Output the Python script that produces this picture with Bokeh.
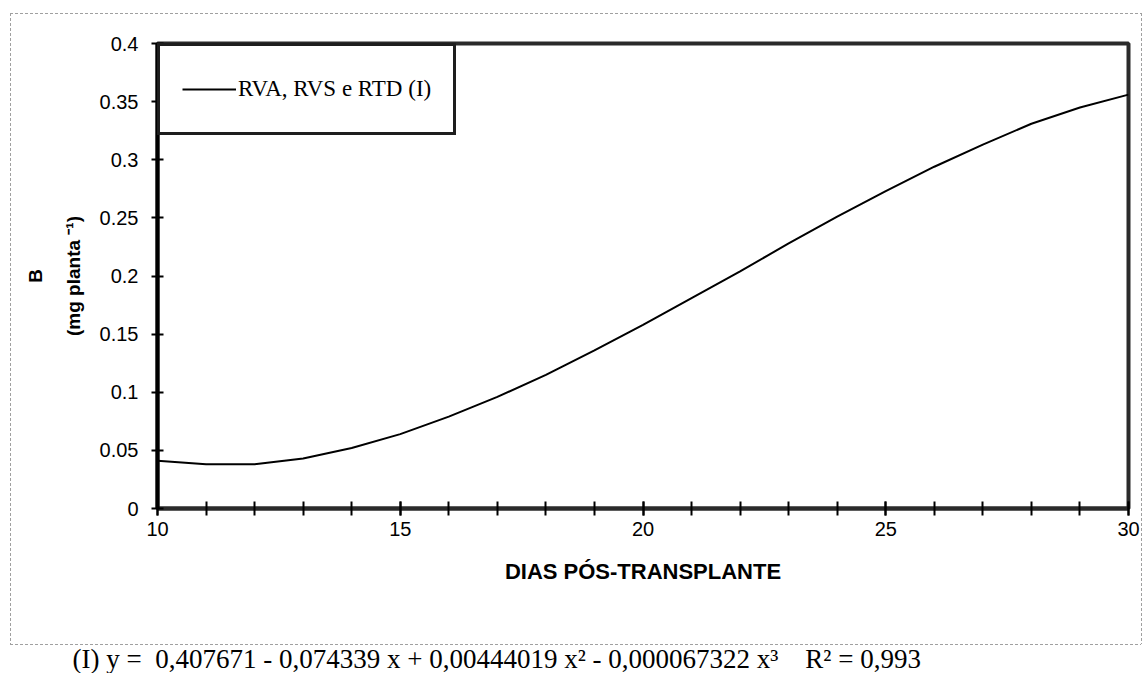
from bokeh.plotting import figure
from bokeh.models import (FixedTicker, CustomJSTickFormatter, Legend, LegendItem, Title)
from bokeh.embed import file_html
from bokeh.resources import INLINE

# ---- data ----
days = [10, 11, 12, 13, 14, 15, 16, 17, 18, 19, 20,
        21, 22, 23, 24, 25, 26, 27, 28, 29, 30]
b_values = [0.041, 0.038, 0.038, 0.043, 0.052, 0.064, 0.079, 0.096, 0.115, 0.136, 0.158,
            0.181, 0.204, 0.228, 0.251, 0.273, 0.294, 0.313, 0.331, 0.345, 0.356]
series_name = "RVA, RVS e RTD (I)"

x_major_ticks = [10, 15, 20, 25, 30]
x_minor_ticks = list(range(10, 31))
y_ticks = [0, 0.05, 0.1, 0.15, 0.2, 0.25, 0.3, 0.35, 0.4]
y_tick_labels = ["0", "0.05", "0.1", "0.15", "0.2", "0.25", "0.3", "0.35", "0.4"]

x_title = "DIAS PÓS-TRANSPLANTE"
y_title = "B\n(mg planta \u207b\u00b9)"
NB = "\u00a0"
caption = ("(I) y =" + NB * 2 + "0,407671 - 0,074339 x + 0,00444019 x\u00b2 - 0,000067322 x\u00b3"
           + NB * 4 + "R\u00b2 = 0,993")

# ---- figure ----
FL, FT, FR, FB = 157, 43, 15, 165
p = figure(width=1143, height=673, x_range=(10, 30), y_range=(0, 0.4),
           output_backend="svg", toolbar_location=None,
           min_border_left=FL, min_border_top=FT, min_border_right=FR, min_border_bottom=FB)

# thin dashed outer border of the chart area, drawn behind a transparent canvas border
g = "#a0a0a0"
hdash = f"repeating-linear-gradient(to right, {g} 0 3px, transparent 3px 5px)"
vdash = f"repeating-linear-gradient(to bottom, {g} 0 3px, transparent 3px 5px)"
p.styles = {
    "background-color": "white",
    "background-image": ", ".join([hdash, hdash, vdash, vdash]),
    "background-size": "1131px 1px, 1131px 1px, 1px 631px, 1px 631px",
    "background-position": "10px 13px, 10px 644px, 10px 13px, 1141px 13px",
    "background-repeat": "no-repeat",
}
p.border_fill_color = None
p.background_fill_color = "white"
p.xgrid.visible = False
p.ygrid.visible = False
p.outline_line_color = "#2a2a2a"
p.outline_line_width = 4

line = p.line(days, b_values, line_color="black", line_width=2)

# x axis
xa = p.xaxis[0]
xa.ticker = FixedTicker(ticks=x_major_ticks, minor_ticks=x_minor_ticks)
xa.axis_line_color = "#2a2a2a"
xa.axis_line_width = 4
xa.major_tick_in = 7
xa.major_tick_out = 7
xa.minor_tick_in = 7
xa.minor_tick_out = 7
xa.major_tick_line_width = 2
xa.minor_tick_line_width = 2
xa.major_tick_line_color = "black"
xa.minor_tick_line_color = "black"
xa.major_label_text_font = "Liberation Sans"
xa.major_label_text_font_size = "20px"
xa.major_label_text_color = "black"
xa.major_label_standoff = 6
xa.axis_label = x_title
xa.axis_label_text_font = "Liberation Sans"
xa.axis_label_text_font_style = "bold"
xa.axis_label_text_font_size = "22px"
xa.axis_label_text_color = "black"
xa.axis_label_standoff = 20

# y axis
ya = p.yaxis[0]
ya.ticker = FixedTicker(ticks=y_ticks, minor_ticks=[])
ya.formatter = CustomJSTickFormatter(args=dict(vals=y_ticks, labels=y_tick_labels), code="""
    for (let i = 0; i < vals.length; i++) {
        if (Math.abs(vals[i] - tick) < 1e-9) return labels[i];
    }
    return "";
""")
ya.axis_line_color = "black"
ya.axis_line_width = 4
ya.major_tick_in = 6
ya.major_tick_out = 6
ya.major_tick_line_width = 2
ya.major_tick_line_color = "black"
ya.minor_tick_line_color = None
ya.major_label_text_font = "Liberation Sans"
ya.major_label_text_font_size = "20px"
ya.major_label_text_color = "black"
ya.major_label_standoff = 13
ya.axis_label = y_title
ya.axis_label_text_font = "Liberation Sans"
ya.axis_label_text_font_style = "bold"
ya.axis_label_text_font_size = "19px"
ya.axis_label_text_line_height = 1.8
ya.axis_label_text_color = "black"
ya.axis_label_standoff = 13

# legend
legend = Legend(items=[LegendItem(label=series_name, renderers=[line])],
                location="top_left", margin=0, padding=22, spacing=0,
                glyph_width=54, glyph_height=42, label_height=42, label_standoff=2,
                label_width=180,
                border_line_color="#1e1e1e", border_line_width=3, border_line_alpha=1.0,
                background_fill_color="white", background_fill_alpha=1.0,
                label_text_font="Liberation Serif", label_text_font_size="23px",
                label_text_color="black")
p.add_layout(legend, "center")

# spacer between the axis title and the caption, then the caption itself
spacer = Title(text=" ", standoff=42, text_font_size="10px")
p.add_layout(spacer, "below")
cap = Title(text=caption, align="left", offset=72 - FL, standoff=0,
            text_font="Liberation Serif", text_font_style="normal",
            text_font_size="27px", text_color="black")
p.add_layout(cap, "below")

open("out.html", "w").write(file_html(p, INLINE))
